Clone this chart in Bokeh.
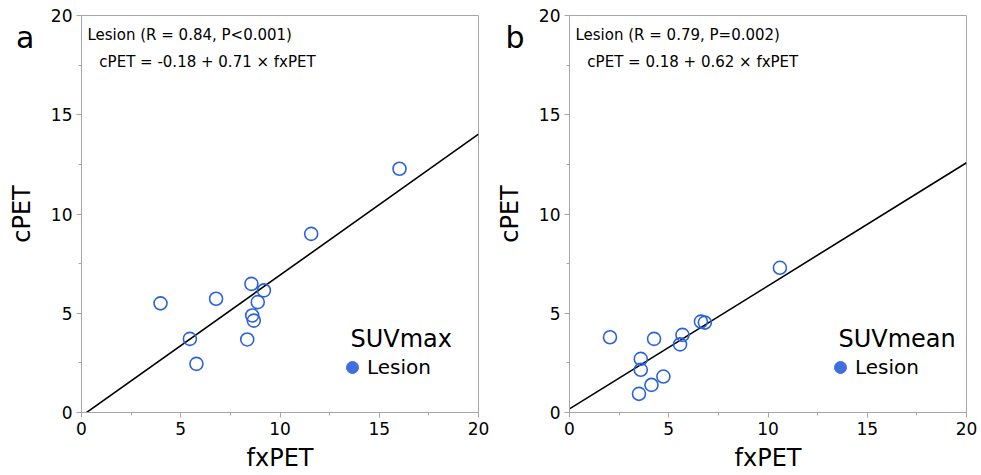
from bokeh.plotting import figure
from bokeh.layouts import row
from bokeh.models import Range1d, Label, Legend, LegendItem, FixedTicker, LinearAxis
from bokeh.embed import file_html
from bokeh.resources import INLINE

# ---- data ----
max_fx = [3.98, 6.78, 5.46, 5.79, 8.56, 9.19, 8.88, 8.60, 8.68, 8.35, 11.57, 16.02]
max_c = [5.50, 5.73, 3.71, 2.45, 6.48, 6.15, 5.56, 4.89, 4.63, 3.68, 9.00, 12.28]
max_fit = (-0.18, 0.71)

mean_fx = [2.04, 4.26, 3.59, 3.59, 4.13, 4.73, 3.50, 5.69, 5.57, 6.62, 6.82, 10.60]
mean_c = [3.79, 3.71, 2.70, 2.15, 1.39, 1.81, 0.94, 3.91, 3.43, 4.58, 4.53, 7.29]
mean_fit = (0.18, 0.62)

ticks = [0, 5, 10, 15, 20]
FONT = "DejaVu Sans"
BLUE = "#2a62dc"
LEG_BLUE = "#3f6fdf"
GRAY = "#a6a6a6"


def panel(letter, fx, c, fit, stats, eq, title, width, left, letter_standoff):
    p = figure(width=width, height=474, output_backend="svg", toolbar_location=None,
               x_range=Range1d(0, 20), y_range=Range1d(0, 20),
               min_border_left=left, min_border_right=width - left - 397,
               min_border_top=15, min_border_bottom=10)
    p.grid.visible = False
    p.outline_line_color = GRAY
    p.background_fill_color = "white"
    p.border_fill_color = "white"
    for ax in (p.xaxis[0], p.yaxis[0]):
        ax.ticker = FixedTicker(ticks=ticks, minor_ticks=[2.5, 7.5, 12.5, 17.5])
        ax.axis_line_color = GRAY
        ax.major_tick_line_color = GRAY
        ax.minor_tick_line_color = GRAY
        ax.major_tick_out = 5
        ax.major_tick_in = 0
        ax.minor_tick_out = 3
        ax.minor_tick_in = 0
        ax.major_label_text_font = FONT
        ax.major_label_text_font_size = "17px"
        ax.major_label_text_color = "black"
        ax.axis_label_text_font = FONT
        ax.axis_label_text_font_size = "24px"
        ax.axis_label_text_font_style = "normal"
        ax.axis_label_text_color = "black"
        ax.major_label_standoff = 4
    p.xaxis.axis_label = "fxPET"
    p.yaxis.axis_label = "cPET"
    p.xaxis.axis_label_standoff = 6
    p.yaxis.axis_label_standoff = 12

    # panel letter as an outer, line-less axis label
    letter_axis = LinearAxis(ticker=FixedTicker(ticks=[18.9], minor_ticks=[]),
                             major_label_overrides={18.9: letter},
                             axis_line_color=None, major_tick_line_color=None,
                             minor_tick_line_color=None,
                             major_tick_out=0, major_tick_in=0,
                             minor_tick_out=0, minor_tick_in=0,
                             major_label_standoff=letter_standoff,
                             major_label_text_font=FONT,
                             major_label_text_font_size="30px",
                             major_label_text_color="black")
    p.add_layout(letter_axis, "left")

    a, b = fit
    xs = [0, 20]
    ys = [a + b * x for x in xs]
    p.line(xs, ys, line_color="black", line_width=1.6)

    p.scatter(fx, c, size=13, marker="circle", fill_color=None,
              line_color=BLUE, line_width=1.6)

    dot = p.scatter(x=[float("nan")], y=[float("nan")], size=13, marker="circle",
                    fill_color=LEG_BLUE, line_color=LEG_BLUE)
    leg = Legend(items=[LegendItem(label="Lesion", renderers=[dot])],
                 location=(256, 30),
                 label_text_font=FONT, label_text_font_size="20px",
                 label_text_color="black",
                 background_fill_alpha=0, border_line_color=None,
                 padding=0, margin=0, glyph_width=30, glyph_height=30,
                 label_standoff=0, label_height=20)
    p.add_layout(leg)
    p.add_layout(Label(x=269, y=74, x_units="screen", y_units="screen",
                       text=title, text_font=FONT, text_font_size="24px",
                       text_baseline="middle", text_color="black"))

    p.add_layout(Label(x=0.3, y=19.0, text=stats, text_font=FONT,
                       text_font_size="15px", text_baseline="middle",
                       text_color="black"))
    p.add_layout(Label(x=0.9, y=17.68, text=eq, text_font=FONT,
                       text_font_size="15px", text_baseline="middle",
                       text_color="black"))
    return p


pa = panel("a", max_fx, max_c, max_fit, "Lesion (R = 0.84, P<0.001)",
           "cPET = -0.18 + 0.71 × fxPET", "SUVmax", 490, 81, -30)
pb = panel("b", mean_fx, mean_c, mean_fit, "Lesion (R = 0.79, P=0.002)",
           "cPET = 0.18 + 0.62 × fxPET", "SUVmean", 488, 79, -32)

layout = row(pa, pb)
open("out.html", "w").write(file_html(layout, INLINE))
